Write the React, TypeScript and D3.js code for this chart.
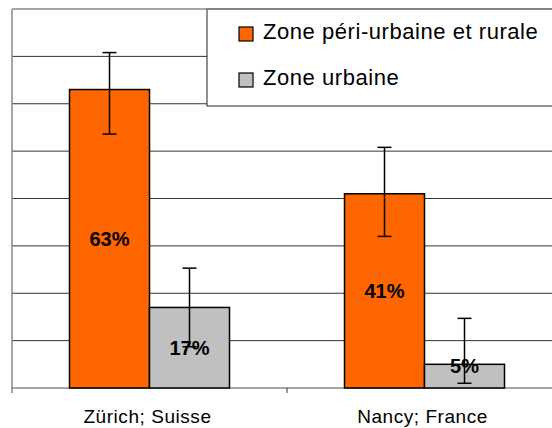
import React from "react";
import * as d3 from "d3";

const categories = ["Zürich; Suisse", "Nancy; France"];
const seriesNames = ["Zone péri-urbaine et rurale", "Zone urbaine"];
const seriesColors = ["#FF6600", "#C0C0C0"];

const periValues = [63, 41];
const urbanValues = [17, 5];
const periLow = [53.6, 32.0];
const periHigh = [70.8, 50.8];
const urbanLow = [8.7, 1.0];
const urbanHigh = [25.3, 14.7];

const yTicks = [0, 10, 20, 30, 40, 50, 60, 70, 80];

const W = 552;
const H = 428;
const FONT = "'Liberation Sans', Arial, sans-serif";

export default function App() {
  const left = 12;
  const top = 9;
  const bottom = 388;

  const x = d3.scaleBand().domain(categories).range([left, 562]);
  const y = d3.scaleLinear().domain([0, 80]).range([bottom, top]);

  const values = [periValues, urbanValues];
  const lows = [periLow, urbanLow];
  const highs = [periHigh, urbanHigh];

  const groupW = 160;

  return (
    <svg
      width={W}
      height={H}
      style={{ position: "absolute", left: 0, top: 0, background: "#fff" }}
      fontFamily={FONT}
    >
      <rect x={0} y={0} width={W} height={H} fill="#fff" />
      {/* grid */}
      {yTicks.map((t) =>
        t === 0 ? null : (
          <line
            key={t}
            x1={left}
            x2={W}
            y1={y(t)}
            y2={y(t)}
            stroke={t === 80 ? "#888" : "#333"}
            strokeWidth={t === 80 ? 1.5 : 1}
          />
        )
      )}
      {/* axes */}
      <line x1={left} x2={left} y1={top} y2={bottom + 5} stroke="#888" strokeWidth={1.5} />
      <line x1={left - 1} x2={W} y1={bottom} y2={bottom} stroke="#888" strokeWidth={1.5} />
      {categories.slice(1).map((c) => (
        <line key={c} x1={x(c)!} x2={x(c)!} y1={bottom} y2={bottom + 5} stroke="#333" strokeWidth={1} />
      ))}

      {/* bars */}
      {categories.map((c, i) => {
        const cx = x(c)! + x.bandwidth() / 2;
        const inner = d3
          .scaleBand()
          .domain(seriesNames)
          .range([cx - groupW / 2, cx + groupW / 2]);
        return (
          <g key={c}>
            {seriesNames.map((s, j) => {
              const v = values[j][i];
              const bx = inner(s)!;
              const bw = inner.bandwidth();
              const mx = bx + bw / 2;
              const yTop = y(v);
              const yLo = y(lows[j][i]);
              const yHi = y(highs[j][i]);
              const labelY = Math.min((yTop + bottom) / 2, bottom - 22);
              return (
                <g key={s}>
                  <rect
                    x={bx}
                    y={yTop}
                    width={bw}
                    height={bottom - yTop}
                    fill={seriesColors[j]}
                    stroke="#000"
                    strokeWidth={1.5}
                  />
                  <line x1={mx} x2={mx} y1={yHi} y2={yLo} stroke="#000" strokeWidth={1.5} />
                  <line x1={mx - 7} x2={mx + 7} y1={yHi} y2={yHi} stroke="#000" strokeWidth={1.5} />
                  <line x1={mx - 7} x2={mx + 7} y1={yLo} y2={yLo} stroke="#000" strokeWidth={1.5} />
                  <text
                    x={mx}
                    y={labelY}
                    dy="0.36em"
                    textAnchor="middle"
                    fontWeight="bold"
                    fontSize={20}
                    fill="#000"
                  >
                    {v}%
                  </text>
                </g>
              );
            })}
            <text x={cx - 2} y={423} textAnchor="middle" fontSize={19} letterSpacing={0.55} fill="#000">
              {c}
            </text>
          </g>
        );
      })}

      {/* legend */}
      <rect x={207} y={top} width={W - 207 + 2} height={106 - top} fill="#fff" stroke="#222" strokeWidth={1} />
      <line x1={207} x2={W} y1={top} y2={top} stroke="#888" strokeWidth={1.5} />
      {seriesNames.map((s, j) => (
        <g key={s} transform={`translate(239, ${27 + j * 46})`}>
          <rect x={0} y={0} width={14} height={14} fill={seriesColors[j]} stroke="#000" strokeWidth={1.2} />
          <text x={24} y={12} fontSize={22} letterSpacing={0.55} fill="#000">
            {s}
          </text>
        </g>
      ))}
    </svg>
  );
}
